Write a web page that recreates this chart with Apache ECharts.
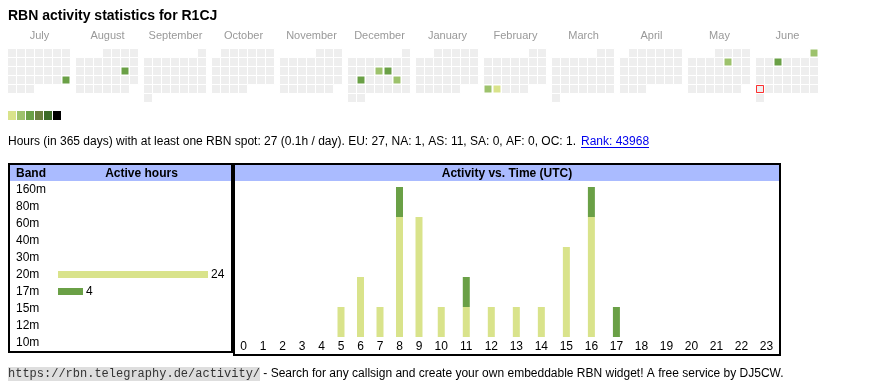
<!DOCTYPE html>
<html>
<head>
<meta charset="utf-8">
<script src="https://cdn.jsdelivr.net/npm/echarts@6/dist/echarts.min.js"></script>
<style>html,body{margin:0;padding:0;background:#fff}#c{width:870px;height:390px}</style>
</head>
<body>
<div id="c"></div>
<script>
// ---------- data ----------
const monthKeys = ['2024-07','2024-08','2024-09','2024-10','2024-11','2024-12','2025-01','2025-02','2025-03','2025-04','2025-05','2025-06'];
const monthNames = ['July','August','September','October','November','December','January','February','March','April','May','June'];
const activeDays = [
  ['2024-07-28',3],['2024-08-17',3],
  ['2024-12-12',2],['2024-12-13',3],['2024-12-17',3],['2024-12-21',2],
  ['2025-02-24',2],['2025-02-25',1],
  ['2025-05-09',2],['2025-06-01',2],['2025-06-04',3]
];
const today = '2025-06-23';
const levelValues = [1,2,3,4,5,6];
const bands = ['160m','80m','60m','40m','30m','20m','17m','15m','12m','10m'];
const bandHours = [0,0,0,0,0,24,4,0,0,0];
const hourLabels = ['0','1','2','3','4','5','6','7','8','9','10','11','12','13','14','15','16','17','18','19','20','21','22','23'];
const hours20m = [0,0,0,0,0,1,2,1,4,4,1,1,1,1,1,3,4,0,0,0,0,0,0,0];
const hours17m = [0,0,0,0,0,0,0,0,1,0,0,1,0,0,0,0,1,1,0,0,0,0,0,0];
const titleText = 'RBN activity statistics for R1CJ';
const statsText = 'Hours (in 365 days) with at least one RBN spot: 27 (0.1h / day). EU: 27, NA: 1, AS: 11, SA: 0, AF: 0, OC: 1. ';
const rankText = 'Rank: 43968';
const urlText = 'https://rbn.telegraphy.de/activity/';
const footerText = ' - Search for any callsign and create your own embeddable RBN widget! A free service by DJ5CW.';

// ---------- styles ----------
const FONT = "'Liberation Sans', Arial, sans-serif";
const levelColors = ['#d9e38b','#9dc26c','#6aa046','#6a7f3d','#3d6b28','#000000'];
const bandColors = {'20m': levelColors[0], '17m': levelColors[2]};
const cellGrey = '#eeeeee';
const headBlue = '#aabbff';

const chart = echarts.init(document.getElementById('c'), null, {renderer:'canvas'});

const calendars = monthKeys.map((m,i)=>({
  orient:'vertical', range:m, left:7.5+68*i, top:48.5, cellSize:[9,9],
  dayLabel:{show:false, firstDay:1}, monthLabel:{show:false}, yearLabel:{show:false},
  splitLine:{show:false}, silent:true,
  itemStyle:{color:cellGrey, borderColor:'#ffffff', borderWidth:1}
}));

const heatSeries = monthKeys.map((m,i)=>({
  type:'heatmap', coordinateSystem:'calendar', calendarIndex:i, silent:true,
  itemStyle:{borderColor:'#ffffff', borderWidth:1},
  data: activeDays.filter(d=>d[0].indexOf(m)===0)
}));

const txt = (x,y,text,font,extra)=>Object.assign({type:'text', x, y, silent:true,
  style:Object.assign({text, font, fill:'#000', textAlign:'left', align:'left', textVerticalAlign:'middle', verticalAlign:'middle'}, extra||{})});

const graphics = [];
graphics.push(txt(8,16,titleText,'bold 14px '+FONT));
monthNames.forEach((n,i)=>graphics.push(txt(8+68*i+31.5,35.5,n,'11px '+FONT,{fill:'#999999', textAlign:'center', align:'center'})));
graphics.push(txt(8,142,statsText,'12px '+FONT));
graphics.push(txt(581,142,rankText,'12px '+FONT,{fill:'#0000ee'}));
graphics.push({type:'line', silent:true, shape:{x1:581,y1:147.5,x2:649,y2:147.5}, style:{stroke:'#0000ee', lineWidth:1}});
// table boxes
graphics.push({type:'rect', silent:true, shape:{x:10,y:165,width:221,height:16}, style:{fill:headBlue}});
graphics.push({type:'rect', silent:true, shape:{x:235,y:165,width:544,height:16}, style:{fill:headBlue}});
graphics.push({type:'rect', silent:true, shape:{x:9,y:164,width:223,height:188}, style:{fill:null, stroke:'#000', lineWidth:2}});
graphics.push({type:'rect', silent:true, shape:{x:234,y:164,width:546,height:191}, style:{fill:null, stroke:'#000', lineWidth:2}});
graphics.push(txt(16,173.5,'Band','bold 12px '+FONT));
graphics.push(txt(141.5,173.5,'Active hours','bold 12px '+FONT,{textAlign:'center', align:'center'}));
graphics.push(txt(507,173.5,'Activity vs. Time (UTC)','bold 12px '+FONT,{textAlign:'center', align:'center'}));
// footer
graphics.push({type:'rect', silent:true, shape:{x:8,y:367,width:252,height:14}, style:{fill:'#dedede'}});
graphics.push(txt(8,374,urlText,"12px 'Liberation Mono', monospace",{fill:'#333'}));
graphics.push(txt(260,374,footerText,'12px '+FONT));

const hourAxis = (g, labels)=>({type:'category', gridIndex:g, data:labels,
  axisLine:{show:false}, axisTick:{show:false}, splitLine:{show:false},
  axisLabel:{interval:0, margin:4, fontSize:12, color:'#000', fontFamily:FONT}});

const option = {
  animation:false,
  textStyle:{fontFamily:FONT},
  calendar: calendars,
  visualMap: {
    type:'piecewise', orient:'horizontal', left:8, top:111, padding:0,
    itemWidth:8, itemHeight:9, itemGap:1, itemSymbol:'rect', showLabel:false,
    selectedMode:false, seriesIndex: monthKeys.map((m,i)=>i),
    pieces: levelValues.map((v,i)=>({value:v, color:levelColors[i]}))
  },
  grid: [
    {left:58, top:181, width:150, height:170},
    {left:233.75, top:187, width:195, height:150},
    {left:428.75, top:187, width:350.3, height:150}
  ],
  xAxis: [
    {type:'value', gridIndex:0, min:0, max:24, show:false},
    hourAxis(1, hourLabels.slice(0,10)),
    hourAxis(2, hourLabels.slice(10))
  ],
  yAxis: [
    {type:'category', gridIndex:0, data:bands, inverse:true,
     axisLine:{show:false}, axisTick:{show:false}, splitLine:{show:false},
     axisLabel:{align:'left', margin:42, fontSize:12, color:'#000', fontFamily:FONT}},
    {type:'value', gridIndex:1, min:0, max:5, show:false},
    {type:'value', gridIndex:2, min:0, max:5, show:false}
  ],
  graphic: graphics,
  series: heatSeries.concat([
    {type:'scatter', coordinateSystem:'calendar', calendarIndex:11, symbol:'rect', symbolSize:7, silent:true, z:5,
     itemStyle:{color:cellGrey, borderColor:'#ff0000', borderWidth:1}, data:[[today,0]]},
    {type:'bar', xAxisIndex:0, yAxisIndex:0, barWidth:7, silent:true,
     data: bandHours.map((v,i)=>({value:v, itemStyle:{color:bandColors[bands[i]]||'#ccc'}})),
     label:{show:true, position:'right', distance:3, fontSize:12, color:'#000', fontFamily:FONT,
            formatter:p=>p.value>0?String(p.value):''}},
    {type:'bar', xAxisIndex:1, yAxisIndex:1, stack:'g1', barWidth:7, silent:true, itemStyle:{color:bandColors['20m']}, data:hours20m.slice(0,10)},
    {type:'bar', xAxisIndex:1, yAxisIndex:1, stack:'g1', barWidth:7, silent:true, itemStyle:{color:bandColors['17m']}, data:hours17m.slice(0,10)},
    {type:'bar', xAxisIndex:2, yAxisIndex:2, stack:'g2', barWidth:7, silent:true, itemStyle:{color:bandColors['20m']}, data:hours20m.slice(10)},
    {type:'bar', xAxisIndex:2, yAxisIndex:2, stack:'g2', barWidth:7, silent:true, itemStyle:{color:bandColors['17m']}, data:hours17m.slice(10)}
  ])
};
chart.setOption(option);
</script>
</body>
</html>
